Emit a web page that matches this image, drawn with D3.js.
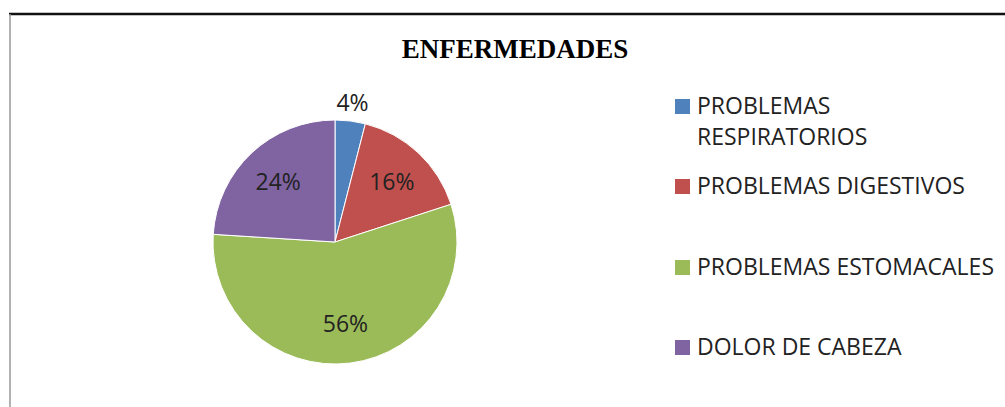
<!DOCTYPE html>
<html>
<head>
<meta charset="utf-8">
<script src="https://cdn.jsdelivr.net/npm/d3@7"></script>
<style>
  body { margin: 0; background: #fff; }
  svg { display: block; }
</style>
</head>
<body>
<svg width="1005" height="407"></svg>
<script>
var width = 1005;
var height = 407;

// chart data
var categories = ["PROBLEMAS RESPIRATORIOS", "PROBLEMAS DIGESTIVOS", "PROBLEMAS ESTOMACALES", "DOLOR DE CABEZA"];
var legendLines = [["PROBLEMAS", "RESPIRATORIOS"], ["PROBLEMAS DIGESTIVOS"], ["PROBLEMAS ESTOMACALES"], ["DOLOR DE CABEZA"]];
var values = [4, 16, 56, 24];
var colors = ["#4F81BD", "#C0504D", "#9BBB59", "#8064A2"];

var svg = d3.select('svg');

// frame (top and left edge of the chart box)
svg.append("line")
    .attr("x1", 9).attr("y1", 14)
    .attr("x2", width).attr("y2", 14)
    .attr("stroke", "#111")
    .attr("stroke-width", 2.5);
svg.append("line")
    .attr("x1", 10).attr("y1", 14)
    .attr("x2", 10).attr("y2", height)
    .attr("stroke", "#999")
    .attr("stroke-width", 1.5);

//title
svg.append("text")
    .attr("x", 515)
    .attr("y", 58)
    .attr("text-anchor", "middle")
    .attr("font-family", "'Liberation Serif', 'Times New Roman', serif")
    .attr("font-weight", "bold")
    .attr("font-size", "27px")
    .text("ENFERMEDADES");

var cx = 335, cy = 242, radius = 122;
var total = d3.sum(values);

var pie = d3.pie().sort(null).value(function(d) { return d; });
var arc = d3.arc().innerRadius(0).outerRadius(radius);
var labelArc = d3.arc().innerRadius(radius * 0.68).outerRadius(radius * 0.68);
var outerArc = d3.arc().innerRadius(radius + 18).outerRadius(radius + 18);

var g = svg.append("g").attr("transform", "translate(" + cx + "," + cy + ")");

g.selectAll("path")
    .data(pie(values))
    .enter()
    .append("path")
    .attr("d", arc)
    .attr("fill", function(d, i) { return colors[i]; })
    .attr("stroke", "#fff")
    .attr("stroke-width", 1);

// percentage labels, small slices go outside
g.selectAll("text.pct")
    .data(pie(values))
    .enter()
    .append("text")
    .attr("class", "pct")
    .attr("transform", function(d) {
        var c = (d.value / total < 0.05) ? outerArc.centroid(d) : labelArc.centroid(d);
        return "translate(" + c + ")";
    })
    .attr("dy", "0.35em")
    .attr("text-anchor", "middle")
    .attr("font-family", "'Open Sans', sans-serif")
    .attr("font-size", "23px")
    .attr("fill", "#222")
    .text(function(d) { return Math.round(d.value / total * 100) + "%"; });

// legend
var legendRows = [106, 186, 267, 347];
var legend = svg.append("g");
legendLines.forEach(function(lines, i) {
    legend.append("rect")
        .attr("x", 675)
        .attr("y", legendRows[i] - 7)
        .attr("width", 15)
        .attr("height", 15)
        .attr("fill", colors[i]);
    var t = legend.append("text")
        .attr("x", 697)
        .attr("y", legendRows[i])
        .attr("font-family", "'Open Sans', sans-serif")
        .attr("font-size", "23px")
        .attr("fill", "#222");
    lines.forEach(function(line, j) {
        t.append("tspan")
            .attr("x", 697)
            .attr("dy", j === 0 ? "0.35em" : 31)
            .text(line);
    });
});
</script>
</body>
</html>
